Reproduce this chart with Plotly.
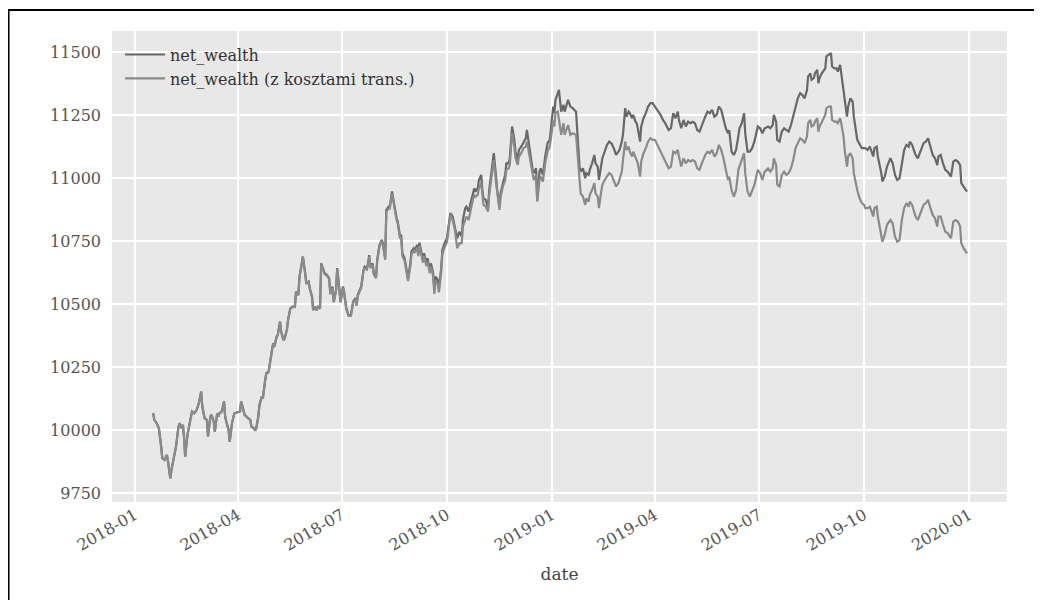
import pandas as pd
import plotly.graph_objects as go

# days since 2018-01-01
day_offset = [
    16, 17, 19, 21, 23, 24, 26, 28, 29, 31, 32, 34, 36, 38, 39, 41, 42, 43, 44, 46,
    48, 50, 52, 54, 56, 58, 59, 61, 63, 64, 66, 67, 69, 70, 72, 73, 74, 76, 78, 79,
    80, 82, 83, 85, 87, 90, 92, 93, 95, 96, 99, 101, 102, 104, 105, 106, 108,
    109, 111, 112, 114, 115, 117, 118, 120, 121, 122, 124, 125, 127, 128, 130, 131, 133, 134, 136, 138,
    140, 141, 143, 144, 146, 147, 149, 150, 152, 153, 155, 156, 157, 159, 160, 162, 163, 165, 166, 168,
    170, 171, 173, 174, 176, 177, 179, 180, 182, 183, 185, 187, 189, 191, 193, 194, 195, 197,
    198, 200, 201, 203, 204, 205, 206, 208, 209, 211, 212, 214, 216, 217, 219, 220, 222, 223, 225, 226,
    228, 229, 230, 232, 233, 234, 236, 238, 239, 241, 242, 244, 245, 247, 248, 249, 250, 252, 253, 255,
    256, 258, 259, 261, 262, 263, 265, 266, 268, 269, 271, 273, 274,
    276, 278, 280, 282, 284, 286, 287, 289, 290, 292, 294, 296, 297, 298, 300, 301, 303, 304, 305, 307,
    309, 310, 312, 313, 314, 316, 317, 319, 320, 322, 324, 325, 327, 328, 330, 332, 333, 335, 336, 338,
    340, 342, 343, 345, 346, 348, 349, 351, 352, 354, 355, 357, 359, 361, 363, 364, 366, 367, 368, 370,
    371, 373, 375, 376, 379, 381, 383, 386, 387, 389, 390, 392, 394, 395, 397, 398, 400, 402, 403, 405,
    406, 408, 409, 411, 413, 415, 417, 419, 421, 423, 424, 426, 427, 429, 430, 432, 433, 435, 436, 438,
    439, 440, 442, 443, 445, 447, 449, 451, 453, 455,
    458, 460, 462, 464, 467, 469, 471, 473, 475, 476, 478, 480, 482, 484, 486, 488, 490, 492, 494, 496,
    499, 501, 503, 505, 507, 509, 511, 513, 515, 517, 519, 520, 522, 524, 526, 528, 529, 531, 533, 534,
    536, 538, 540, 542, 545,
    547, 549, 551, 554, 556, 558, 559, 561, 562, 564, 566, 568, 570, 572, 574, 576, 577, 578, 580, 582,
    584, 586, 588, 589, 591, 592, 594, 595, 597, 598, 599, 601, 602, 604, 605, 607, 609, 610, 612, 614,
    615, 617, 618, 620, 621, 623, 624, 626, 628, 629, 632, 634, 636, 638,
    639, 641, 643, 646, 647, 649, 650, 653, 654, 656, 658, 661, 663, 665, 667, 669, 671, 673, 675, 677,
    678, 680, 682, 683, 685, 688, 690, 692, 694, 696, 698, 700, 702, 703, 705, 707, 709, 711, 713, 714,
    716, 718, 720, 722, 723, 725, 728,
]

net_wealth = [
    10066, 10040, 10027, 10007, 9934, 9888, 9881, 9901, 9875, 9808, 9841, 9888, 9934, 10007, 10027, 10007, 10020, 9974, 9894, 9980,
    10020, 10073, 10066, 10079, 10106, 10152, 10093, 10047, 10040, 9974, 10053, 10060, 10033, 9993, 10066, 10053, 10066, 10073, 10113, 10053,
    10033, 10000, 9954, 10027, 10066, 10069, 10073, 10113, 10079, 10060, 10047, 10040, 10013, 10007, 10000, 10002, 10053,
    10099, 10132, 10126, 10198, 10225, 10231, 10265, 10318, 10344, 10331, 10370, 10377, 10430, 10390, 10357, 10364, 10397, 10437, 10483, 10489,
    10489, 10549, 10536, 10608, 10661, 10688, 10622, 10582, 10589, 10562, 10529, 10476, 10489, 10476, 10489, 10483, 10661, 10635, 10622, 10615,
    10602, 10542, 10569, 10509, 10556, 10642, 10556, 10509, 10569, 10549, 10483, 10456, 10456, 10510, 10523, 10496, 10536, 10562,
    10569, 10635, 10648, 10642, 10661, 10694, 10648, 10661, 10622, 10608, 10675, 10734, 10754, 10741, 10681, 10873, 10886, 10886, 10946, 10919,
    10860, 10840, 10827, 10767, 10774, 10701, 10681, 10635, 10602, 10661, 10708, 10721, 10714, 10734, 10701, 10743, 10714, 10675, 10701, 10661,
    10681, 10635, 10661, 10622, 10556, 10608, 10595, 10562, 10642, 10714, 10741, 10761, 10794,
    10860, 10847, 10807, 10761, 10787, 10767, 10833, 10880, 10886, 10867, 10906, 10946, 10959, 10946, 10959, 10992, 11012, 10952, 10919, 10913,
    10880, 10952, 11019, 11071, 11098, 11005, 10952, 10886, 10939, 10979, 11012, 11058, 11058, 11078, 11204, 11151, 11105, 11071, 11111, 11124,
    11144, 11157, 11191, 11124, 11085, 11032, 11019, 11038, 10913, 11025, 11038, 11012, 11085, 11138, 11151, 11191, 11283, 11257, 11310, 11336,
    11349, 11263, 11290, 11263, 11310, 11283, 11277, 11263, 11190, 11045, 11025, 11038, 10999, 11019, 11012, 11032, 11058, 11091, 11058, 11045,
    10992, 11051, 11078, 11104, 11131, 11144, 11137, 11118, 11091, 11104, 11111, 11144, 11171, 11277, 11243, 11263, 11257, 11237, 11250, 11223,
    11217, 11197, 11144, 11204, 11237, 11257, 11283, 11297, 11297, 11283,
    11263, 11250, 11230, 11217, 11190, 11197, 11257, 11237, 11263, 11230, 11197, 11230, 11204, 11223, 11217, 11223, 11217, 11190, 11184, 11210,
    11243, 11263, 11257, 11270, 11243, 11250, 11283, 11270, 11237, 11197, 11177, 11190, 11104, 11091, 11111, 11184, 11197, 11217, 11257, 11177,
    11104, 11104, 11118, 11145, 11204,
    11197, 11177, 11197, 11204, 11197, 11210, 11250, 11223, 11151, 11144, 11184, 11197, 11190, 11184, 11210, 11243, 11270, 11283, 11316, 11336,
    11329, 11316, 11349, 11402, 11415, 11389, 11396, 11415, 11429, 11376, 11396, 11415, 11422, 11435, 11482, 11488, 11495, 11442, 11435, 11435,
    11422, 11449, 11415, 11362, 11310, 11243, 11283, 11316, 11303, 11243, 11151, 11131, 11118, 11118,
    11118, 11111, 11124, 11085, 11118, 11124, 11085, 11019, 10986, 11005, 11045, 11078, 11058, 11012, 10992, 10999, 11058, 11111, 11131, 11124,
    11144, 11131, 11104, 11091, 11078, 11111, 11138, 11144, 11157, 11124, 11091, 11078, 11051, 11085, 11091, 11058, 11032, 11025, 11012, 11005,
    11065, 11071, 11065, 11051, 10979, 10966, 10946,
]

net_wealth_tc = [
    10066, 10040, 10027, 10007, 9934, 9888, 9881, 9901, 9875, 9808, 9841, 9888, 9934, 10007, 10027, 10007, 10020, 9974, 9894, 9980,
    10020, 10073, 10066, 10079, 10106, 10152, 10093, 10047, 10040, 9974, 10053, 10060, 10033, 9993, 10066, 10053, 10066, 10073, 10113, 10053,
    10033, 10000, 9954, 10027, 10066, 10069, 10073, 10113, 10079, 10060, 10047, 10040, 10013, 10007, 10000, 10002, 10053,
    10097, 10130, 10124, 10196, 10223, 10229, 10263, 10316, 10342, 10329, 10368, 10375, 10428, 10388, 10355, 10362, 10395, 10435, 10481, 10487,
    10487, 10547, 10534, 10606, 10659, 10686, 10620, 10580, 10587, 10560, 10527, 10474, 10487, 10474, 10487, 10481, 10657, 10631, 10618, 10611,
    10598, 10538, 10565, 10505, 10552, 10638, 10552, 10505, 10565, 10545, 10479, 10452, 10452, 10506, 10519, 10492, 10532, 10558,
    10563, 10629, 10642, 10636, 10655, 10688, 10642, 10655, 10616, 10602, 10669, 10728, 10748, 10735, 10675, 10865, 10878, 10878, 10938, 10911,
    10852, 10832, 10819, 10759, 10766, 10690, 10670, 10624, 10591, 10650, 10697, 10710, 10703, 10723, 10690, 10732, 10703, 10664, 10690, 10650,
    10668, 10622, 10648, 10609, 10540, 10592, 10579, 10546, 10626, 10698, 10725, 10745, 10778,
    10853, 10833, 10794, 10721, 10741, 10741, 10807, 10833, 10847, 10833, 10880, 10919, 10933, 10926, 10933, 10959, 10979, 10933, 10893, 10886,
    10867, 10933, 10999, 11045, 11071, 10979, 10939, 10873, 10926, 10966, 10992, 11032, 11038, 11052, 11177, 11124, 11078, 11052, 11085, 11098,
    11118, 11124, 11144, 11091, 11058, 11005, 10992, 11012, 10906, 10992, 11005, 10985, 11058, 11105, 11124, 11157, 11230, 11204, 11257, 11263,
    11224, 11171, 11217, 11171, 11210, 11171, 11177, 11171, 11111, 10966, 10939, 10926, 10893, 10919, 10906, 10933, 10952, 10979, 10939, 10926,
    10880, 10946, 10973, 10992, 11005, 11019, 11012, 10992, 10966, 10979, 10992, 11025, 11071, 11144, 11111, 11124, 11104, 11085, 11104, 11085,
    11071, 11058, 11005, 11065, 11098, 11118, 11144, 11157, 11151, 11151,
    11124, 11104, 11085, 11065, 11038, 11045, 11104, 11098, 11111, 11085, 11045, 11078, 11058, 11071, 11065, 11071, 11065, 11038, 11032, 11058,
    11091, 11104, 11098, 11111, 11085, 11098, 11131, 11111, 11078, 11032, 10992, 11005, 10952, 10926, 10952, 11032, 11045, 11065, 11098, 11019,
    10946, 10926, 10952, 10972, 11032,
    11019, 10992, 11025, 11038, 11025, 11038, 11078, 11051, 10973, 10966, 11012, 11025, 11012, 11019, 11038, 11071, 11098, 11118, 11138, 11157,
    11151, 11138, 11164, 11217, 11230, 11204, 11210, 11223, 11237, 11184, 11204, 11223, 11237, 11250, 11277, 11283, 11283, 11230, 11223, 11223,
    11217, 11237, 11217, 11164, 11111, 11045, 11085, 11098, 11078, 11019, 10952, 10919, 10900, 10893,
    10880, 10880, 10886, 10847, 10880, 10886, 10847, 10774, 10747, 10774, 10814, 10833, 10820, 10767, 10747, 10754, 10833, 10880, 10900, 10886,
    10906, 10893, 10860, 10847, 10833, 10873, 10893, 10900, 10913, 10880, 10853, 10840, 10807, 10847, 10847, 10814, 10787, 10781, 10767, 10761,
    10827, 10833, 10827, 10807, 10741, 10721, 10701,
]

series_names = ["net_wealth", "net_wealth (z kosztami trans.)"]
series_colors = ["#676767", "#8a8a8a"]
y_ticks = [9750, 10000, 10250, 10500, 10750, 11000, 11250, 11500]
x_tick_dates = ["2018-01-01", "2018-04-01", "2018-07-01", "2018-10-01", "2019-01-01",
                "2019-04-01", "2019-07-01", "2019-10-01", "2020-01-01"]

assert len(day_offset) == len(net_wealth) == len(net_wealth_tc)

dates = pd.Timestamp("2018-01-01") + pd.to_timedelta(day_offset, unit="D")

FONT = "DejaVu Serif"

fig = go.Figure()
for name, vals, col in zip(series_names, [net_wealth, net_wealth_tc], series_colors):
    fig.add_trace(go.Scatter(x=dates, y=vals, mode="lines", name=name,
                             line=dict(color=col, width=2.2)))

fig.update_layout(
    width=1034, height=592,
    margin=dict(l=104, r=35, t=23, b=98),
    paper_bgcolor="white",
    plot_bgcolor="#e8e8e8",
    font=dict(family=FONT, size=16, color="#555555"),
    showlegend=True,
    legend=dict(x=0.009, y=0.986, xanchor="left", yanchor="top",
                bgcolor="rgba(0,0,0,0)", font=dict(family=FONT, size=16, color="#333333"),
                tracegroupgap=0, itemwidth=40),
    xaxis=dict(
        range=["2017-12-12", "2020-02-03"],
        tickvals=x_tick_dates, tickformat="%Y-%m", tickangle=-30,
        showgrid=True, gridcolor="white", gridwidth=1.5,
        zeroline=False, showline=False, ticks="",
        title=dict(text="date", font=dict(family=FONT, size=17, color="#444444"), standoff=14),
        tickfont=dict(family=FONT, size=16, color="#555555"),
    ),
    yaxis=dict(
        range=[9714, 11583],
        tickvals=y_ticks, tickformat="d",
        showgrid=True, gridcolor="white", gridwidth=1.5,
        zeroline=False, showline=False, ticks="",
        ticklabelstandoff=10,
        tickfont=dict(family=FONT, size=16, color="#555555"),
    ),
    shapes=[dict(type="rect", xref="paper", yref="paper",
                 x0=-0.1156, x1=1.08, y0=-0.35, y1=1.0446,
                 line=dict(color="black", width=2), fillcolor="rgba(0,0,0,0)", layer="above")],
)

fig.write_html("out.html")
